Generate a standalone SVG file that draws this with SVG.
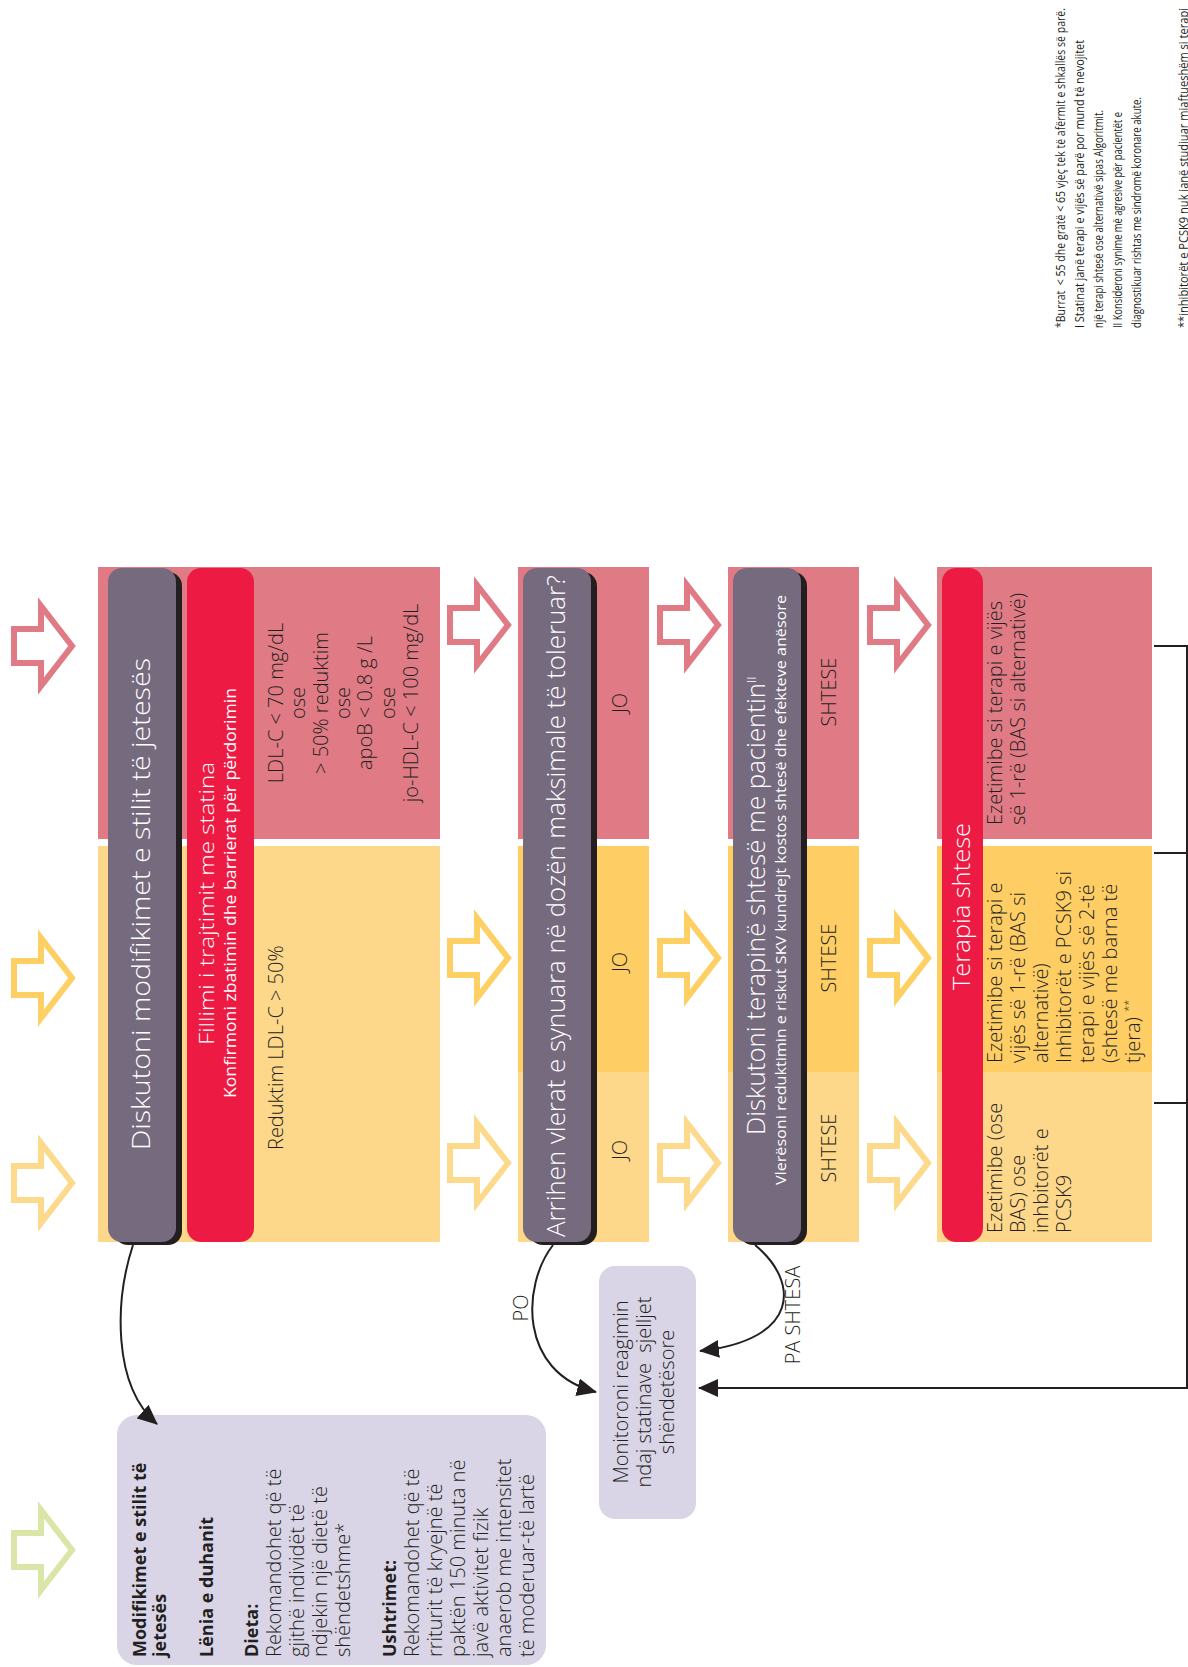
<svg xmlns="http://www.w3.org/2000/svg" width="1188" height="1667" viewBox="0 0 1188 1667">
<defs>
<style>
text { font-family: "Open Sans", "Liberation Sans", sans-serif; fill: #231f20; }
.w { fill: #ffffff; }
.pink { fill: #E07B85; }
.red { fill: #ED1A44; }
.gray { fill: #766A7E; }
.shadow { fill: #231F20; }
.ydark { fill: #FECE65; }
.ylight { fill: #FDD78A; }
.lilac { fill: #D9D4E6; }
.a-pink { stroke: #E07B85; }
.a-ydark { stroke: #FECF62; }
.a-ylight { stroke: #FDD98B; }
.a-green { stroke: #D9E6A8; }
.conn { fill: none; stroke: #231F20; stroke-width: 2; }
.title { font-size: 26px; font-weight: 300; }
.body { font-size: 20px; font-weight: 300; }
.lab { font-size: 20px; font-weight: 300; }
.bold { font-size: 18px; font-weight: 700; }
.fn { font-size: 12.5px; font-weight: 400; }
.pre { white-space: pre; }
</style>
<path id="arr" d="M3,-17 H30 V-40 L61,0 L30,40 V17 H3 Z" fill="#ffffff" stroke-width="6" stroke-linejoin="miter"/>
<marker id="ah" viewBox="0 0 20 18" refX="19" refY="9" markerWidth="20" markerHeight="18" markerUnits="userSpaceOnUse" orient="auto">
<path d="M0,0 L20,9 L0,18 Z" fill="#231F20"/>
</marker>
</defs>

<g id="arrows">
<use href="#arr" class="a-pink" x="11" y="646"/>
<use href="#arr" class="a-ydark" x="11" y="978"/>
<use href="#arr" class="a-ylight" x="11" y="1183"/>
<use href="#arr" class="a-green" x="11" y="1550"/>
<use href="#arr" class="a-pink" x="447" y="625"/>
<use href="#arr" class="a-ydark" x="447" y="958"/>
<use href="#arr" class="a-ylight" x="447" y="1163"/>
<use href="#arr" class="a-pink" x="657" y="625"/>
<use href="#arr" class="a-ydark" x="657" y="958"/>
<use href="#arr" class="a-ylight" x="657" y="1163"/>
<use href="#arr" class="a-pink" x="867" y="625"/>
<use href="#arr" class="a-ydark" x="867" y="958"/>
<use href="#arr" class="a-ylight" x="867" y="1163"/>
</g>

<g id="panel1">
<rect class="pink" x="98" y="567" width="342" height="272"/>
<rect class="ylight" x="98" y="846" width="342" height="396"/>
<rect class="shadow" x="114" y="572" width="68" height="673" rx="14"/>
<rect class="gray" x="108" y="568" width="68" height="674" rx="14"/>
<text class="w title" transform="translate(150,1150) rotate(-90)" textLength="492" lengthAdjust="spacingAndGlyphs">Diskutoni modifikimet e stilit të jetesës</text>
<rect class="red" x="187" y="568" width="67" height="674" rx="14"/>
<text class="w" font-size="21" font-weight="300" transform="translate(214,1045) rotate(-90)" textLength="283" lengthAdjust="spacingAndGlyphs">Fillimi i trajtimit me statina</text>
<text class="w" font-size="17" font-weight="500" transform="translate(236,1098) rotate(-90)" textLength="410" lengthAdjust="spacingAndGlyphs">Konfirmoni zbatimin dhe barrierat për përdorimin</text>
<g transform="translate(0,703) rotate(-90)" text-anchor="middle">
<text class="body" x="0" y="283">LDL-C &lt; 70 mg/dL</text>
<text class="body" x="0" y="305">ose</text>
<text class="body" x="0" y="328">&gt; 50% reduktim</text>
<text class="body" x="0" y="350">ose</text>
<text class="body" x="0" y="372">apoB &lt; 0.8 g /L</text>
<text class="body" x="0" y="395">ose</text>
<text class="body" x="0" y="418">jo-HDL-C &lt; 100 mg/dL</text>
</g>
<text class="body" transform="translate(283,1150) rotate(-90)">Reduktim LDL-C &gt; 50%</text>
</g>

<g id="panel2">
<rect class="pink" x="518" y="567" width="131" height="272"/>
<rect class="ydark" x="518" y="846" width="131" height="226"/>
<rect class="ylight" x="518" y="1072" width="131" height="170"/>
<rect class="shadow" x="529" y="572" width="68" height="673" rx="14"/>
<rect class="gray" x="523" y="568" width="68" height="674" rx="14"/>
<text class="w title" font-size="25" transform="translate(565,1237) rotate(-90)" textLength="662" lengthAdjust="spacingAndGlyphs">Arrihen vlerat e synuara në dozën maksimale të toleruar?</text>
<g transform="translate(627,0) rotate(-90)" text-anchor="middle">
<text class="lab" font-size="19" x="-703" y="0">JO</text>
<text class="lab" font-size="19" x="-962" y="0">JO</text>
<text class="lab" font-size="19" x="-1150" y="0">JO</text>
</g>
</g>

<g id="panel3">
<rect class="pink" x="728" y="567" width="131" height="272"/>
<rect class="ydark" x="728" y="846" width="131" height="226"/>
<rect class="ylight" x="728" y="1072" width="131" height="170"/>
<rect class="shadow" x="739" y="572" width="68" height="673" rx="14"/>
<rect class="gray" x="733" y="568" width="68" height="674" rx="14"/>
<text class="w title" font-size="25" transform="translate(765,1135) rotate(-90)"><tspan textLength="452" lengthAdjust="spacingAndGlyphs">Diskutoni terapinë shtesë me pacientin</tspan><tspan font-size="13" dy="-9">II</tspan></text>
<text class="w" font-size="15" font-weight="500" transform="translate(786,1185) rotate(-90)" textLength="590" lengthAdjust="spacingAndGlyphs">Vlerësoni reduktimin e riskut SKV kundrejt kostos shtesë dhe efekteve anësore</text>
<g transform="translate(836,0) rotate(-90)" text-anchor="middle">
<text class="lab" x="-692" y="0">SHTESE</text>
<text class="lab" x="-958" y="0">SHTESE</text>
<text class="lab" x="-1148" y="0">SHTESE</text>
</g>
</g>

<g id="panel4">
<rect class="pink" x="937" y="567" width="215" height="272"/>
<rect class="ydark" x="937" y="846" width="215" height="226"/>
<rect class="ylight" x="937" y="1072" width="215" height="170"/>
<rect class="red" x="942" y="568" width="41" height="674" rx="14"/>
<text class="w" font-size="23" font-weight="300" transform="translate(970,990) rotate(-90)" textLength="167" lengthAdjust="spacingAndGlyphs">Terapia shtese</text>
<g transform="translate(0,825) rotate(-90)">
<text class="body" x="0" y="1002">Ezetimibe si terapi e vijës</text>
<text class="body" x="0" y="1025">së 1-rë (BAS si alternativë)</text>
</g>
<g transform="translate(0,1063) rotate(-90)">
<text class="body" x="0" y="1002">Ezetimibe si terapi e</text>
<text class="body" x="0" y="1025">vijës së 1-rë (BAS si</text>
<text class="body" x="0" y="1048">alternativë)</text>
<text class="body" x="0" y="1071">Inhibitorët e PCSK9 si</text>
<text class="body" x="0" y="1094">terapi e vijës së 2-të</text>
<text class="body" x="0" y="1117">(shtesë me barna të</text>
<text class="body" x="0" y="1140">tjera) <tspan font-size="11" dy="-8">**</tspan></text>
</g>
<g transform="translate(0,1233) rotate(-90)">
<text class="body" x="0" y="1002">Ezetimibe (ose</text>
<text class="body" x="0" y="1025">BAS) ose</text>
<text class="body" x="0" y="1048">inhbitorët e</text>
<text class="body" x="0" y="1071">PCSK9</text>
</g>
</g>

<g id="monitor">
<rect class="lilac" x="599" y="1266" width="97" height="253" rx="16"/>
<g transform="translate(0,1392) rotate(-90)" text-anchor="middle">
<text class="body" x="0" y="628">Monitoroni reagimin</text>
<text class="body pre" x="0" y="651">ndaj statinave  sjelljet</text>
<text class="body" x="0" y="674">shëndetësore</text>
</g>
</g>

<g id="lifestyle">
<rect class="lilac" x="117" y="1415" width="429" height="250" rx="20"/>
<g transform="translate(0,1657) rotate(-90)">
<text class="bold" x="0" y="146">Modifikimet e stilit të</text>
<text class="bold" x="0" y="166">jetesës</text>
<text class="bold" x="0" y="213">Lënia e duhanit</text>
<text class="bold" x="0" y="258">Dieta:</text>
<text class="body" x="0" y="281">Rekomandohet që të</text>
<text class="body" x="0" y="304">gjithë individët të</text>
<text class="body" x="0" y="327">ndjekin një dietë të</text>
<text class="body" x="0" y="350">shëndetshme*</text>
<text class="bold" x="0" y="396">Ushtrimet:</text>
<text class="body" x="0" y="419">Rekomandohet që të</text>
<text class="body" x="0" y="442">rriturit të kryejnë të</text>
<text class="body" x="0" y="465">paktën 150 minuta në</text>
<text class="body" x="0" y="488">javë aktivitet fizik</text>
<text class="body" x="0" y="511">anaerob me intensitet</text>
<text class="body" x="0" y="534">të moderuar-të lartë</text>
</g>
</g>

<g id="connectors">
<path class="conn" d="M133,1245 C115,1300 112,1385 157,1424" marker-end="url(#ah)"/>
<path class="conn" d="M553,1245 C522,1285 518,1372 596,1392" marker-end="url(#ah)"/>
<path class="conn" d="M755,1245 C800,1282 800,1340 700,1351" marker-end="url(#ah)"/>
<path class="conn" d="M1154,646 H1187 V1388 H699" marker-end="url(#ah)"/>
<path class="conn" d="M1154,853 H1187"/>
<path class="conn" d="M1154,1103 H1187"/>
<text class="lab" font-size="19" transform="translate(528,1308) rotate(-90)" text-anchor="middle">PO</text>
<text class="lab" font-size="19" transform="translate(800,1315) rotate(-90)" text-anchor="middle">PA SHTESA</text>
</g>

<g id="footnotes" transform="translate(0,328) rotate(-90)">
<text class="fn pre" x="0" y="1065" textLength="320" lengthAdjust="spacingAndGlyphs">*Burrat  &lt; 55 dhe gratë &lt; 65 vjeç tek të afërmit e shkallës së parë.</text>
<text class="fn" x="0" y="1084" textLength="288" lengthAdjust="spacingAndGlyphs">I Statinat janë terapi e vijës së parë por mund të nevojitet</text>
<text class="fn" x="0" y="1103" textLength="218" lengthAdjust="spacingAndGlyphs">një terapi shtesë ose alternativë sipas Algoritmit.</text>
<text class="fn" x="0" y="1122" textLength="216" lengthAdjust="spacingAndGlyphs">II Konsideroni synime më agresive për pacientët e</text>
<text class="fn" x="0" y="1141" textLength="231" lengthAdjust="spacingAndGlyphs">diagnostikuar rishtas me sindromë koronare akute.</text>
<text class="fn" x="0" y="1188" textLength="320" lengthAdjust="spacingAndGlyphs">**inhibitorët e PCSK9 nuk janë studiuar mjaftueshëm si terapi</text>
</g>
</svg>
